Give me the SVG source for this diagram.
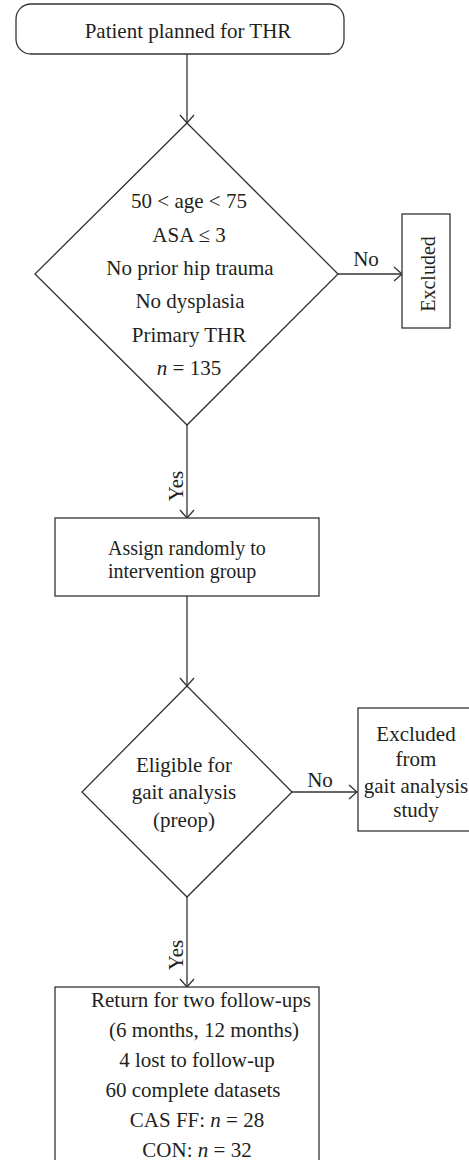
<svg xmlns="http://www.w3.org/2000/svg" width="469" height="1160" viewBox="0 0 469 1160">
<style>
.shape{fill:#fff;stroke:#333;stroke-width:1.3}
.conn{fill:none;stroke:#333;stroke-width:1.3}
text{font-family:"Liberation Serif","Times New Roman",serif;font-size:21px;fill:#231f20}
.c{text-anchor:middle}
.s{font-size:20px}
</style>
<defs>
<marker id="arr" markerUnits="userSpaceOnUse" markerWidth="20" markerHeight="20" viewBox="-10 -10 20 20" refX="0" refY="0" orient="auto">
<path d="M-8,-7 L0,0 L-8,7" fill="none" stroke="#333" stroke-width="1.3"/>
</marker>
</defs>
<rect width="469" height="1160" fill="#fff"/>
<g id="connectors">
<line class="conn" x1="187" y1="54" x2="187" y2="123" marker-end="url(#arr)"/>
<line class="conn" x1="338" y1="274" x2="402" y2="274" marker-end="url(#arr)"/>
<line class="conn" x1="187" y1="425" x2="187" y2="518" marker-end="url(#arr)"/>
<line class="conn" x1="187" y1="596" x2="187" y2="686" marker-end="url(#arr)"/>
<line class="conn" x1="292" y1="792" x2="357" y2="792" marker-end="url(#arr)"/>
<line class="conn" x1="187" y1="897" x2="187" y2="987" marker-end="url(#arr)"/>
<text x="366" y="266" class="c">No</text>
<text transform="translate(183,486) rotate(-90)" class="c">Yes</text>
<text x="320" y="787" class="c">No</text>
<text transform="translate(183,955) rotate(-90)" class="c">Yes</text>
</g>
<g id="start">
<rect class="shape" x="16" y="4" width="328" height="50" rx="15" ry="15"/>
<text x="188" y="38" class="c">Patient planned for THR</text>
</g>
<g id="criteria">
<polygon class="shape" points="187,123 338,274 187,425 35,274"/>
<text x="189" y="208" class="c">50 &lt; age &lt; 75</text>
<text x="189" y="242" class="c">ASA ≤ 3</text>
<text x="190" y="275" class="c">No prior hip trauma</text>
<text x="190" y="308" class="c">No dysplasia</text>
<text x="189" y="342" class="c">Primary THR</text>
<text x="189" y="375" class="c"><tspan font-style="italic">n</tspan> = 135</text>
</g>
<g id="excluded1">
<rect class="shape" x="402" y="214" width="48" height="114"/>
<text transform="translate(435,274) rotate(-90)" class="c s">Excluded</text>
</g>
<g id="assign">
<rect class="shape" x="55" y="518" width="264" height="78"/>
<text x="108" y="555" class="s">Assign randomly to</text>
<text x="108" y="578" class="s">intervention group</text>
</g>
<g id="eligible">
<polygon class="shape" points="187,686 292,792 187,897 82,792"/>
<text x="184" y="772" class="c">Eligible for</text>
<text x="184" y="799" class="c">gait analysis</text>
<text x="184" y="827" class="c">(preop)</text>
</g>
<g id="excluded2">
<rect class="shape" x="358" y="708" width="120" height="123"/>
<text x="416" y="741" class="c">Excluded</text>
<text x="416" y="766" class="c">from</text>
<text x="416" y="793" class="c">gait analysis</text>
<text x="416" y="817" class="c">study</text>
</g>
<g id="followup">
<rect class="shape" x="55" y="987" width="264" height="190"/>
<text x="201" y="1007" class="c">Return for two follow-ups</text>
<text x="204" y="1037" class="c">(6 months, 12 months)</text>
<text x="197" y="1067" class="c">4 lost to follow-up</text>
<text x="193" y="1097" class="c">60 complete datasets</text>
<text x="197" y="1127" class="c">CAS FF: <tspan font-style="italic">n</tspan> = 28</text>
<text x="197" y="1157" class="c">CON: <tspan font-style="italic">n</tspan> = 32</text>
</g>
</svg>
